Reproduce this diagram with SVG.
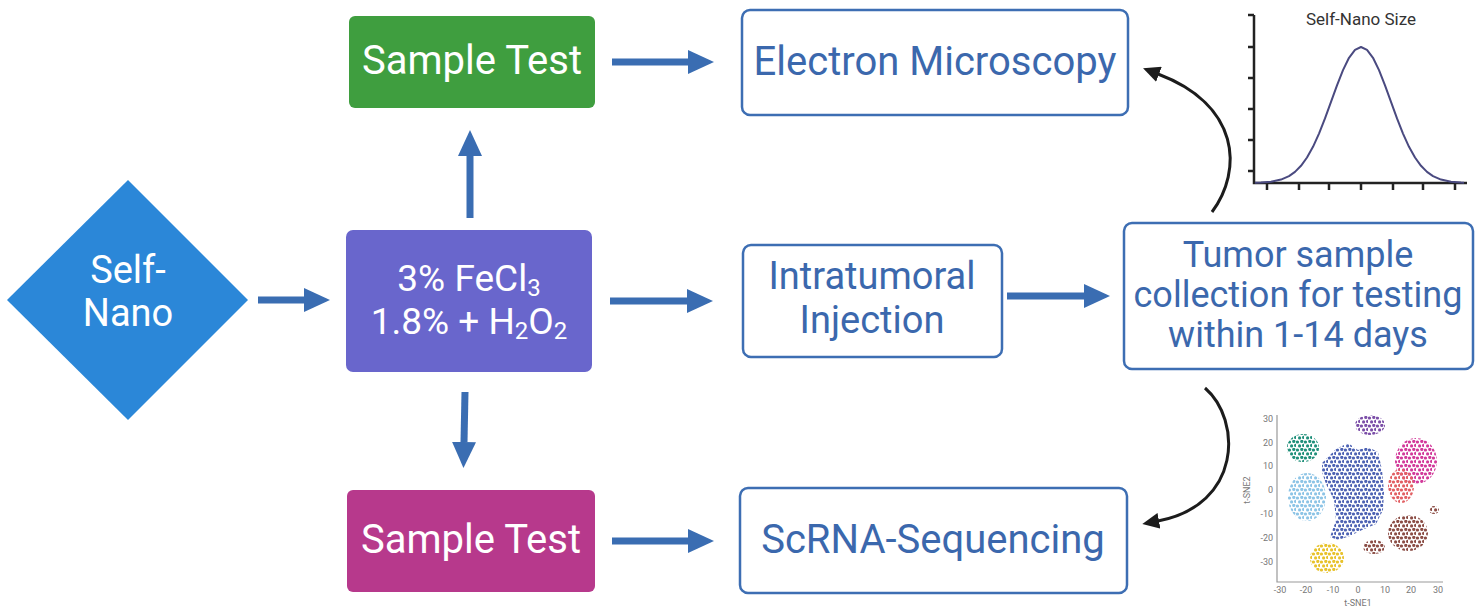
<svg xmlns="http://www.w3.org/2000/svg" width="1479" height="614" viewBox="0 0 1479 614">
<style>
text{font-family:Roboto,"Liberation Sans",Arial,sans-serif}
.wt{fill:#ffffff;text-anchor:middle}
.bt{fill:#3b68ad;text-anchor:middle}
.ob{fill:#ffffff;stroke:#3d6eb3;stroke-width:2.5}
.ba{stroke:#3a6db2;stroke-width:7;fill:none;marker-end:url(#ab)}
.ka{stroke:#1c1c1c;stroke-width:3;fill:none;marker-end:url(#ak)}
.ax{stroke:#222;stroke-width:2.5;fill:none}
.tx{stroke:#999;stroke-width:1.2;fill:none}
.tl{fill:#777;font-size:9px}
</style>
<defs>
<marker id="ab" markerWidth="26" markerHeight="26" refX="0" refY="13" orient="auto" markerUnits="userSpaceOnUse"><path d="M0,1 L26,13 L0,25 Z" fill="#3a6db2"/></marker>
<marker id="ak" markerWidth="18" markerHeight="16" refX="1" refY="8" orient="auto" markerUnits="userSpaceOnUse"><path d="M0,0 L17,8 L0,16 Z" fill="#1c1c1c"/></marker>
<pattern id="pTeal" patternUnits="userSpaceOnUse" width="8" height="8"><g fill="#1f8f7a"><circle cx="1.5" cy="2" r="1.6"/><circle cx="5.8" cy="1.4" r="1.6"/><circle cx="3.6" cy="5.9" r="1.6"/><circle cx="7.6" cy="5.4" r="1.6"/></g></pattern>
<pattern id="pLb" patternUnits="userSpaceOnUse" width="8" height="8"><g fill="#8cc4e6"><circle cx="1.5" cy="2" r="1.6"/><circle cx="5.8" cy="1.4" r="1.6"/><circle cx="3.6" cy="5.9" r="1.6"/><circle cx="7.6" cy="5.4" r="1.6"/></g></pattern>
<pattern id="pBl" patternUnits="userSpaceOnUse" width="8" height="8"><g fill="#4d62b3"><circle cx="1.5" cy="2" r="1.6"/><circle cx="5.8" cy="1.4" r="1.6"/><circle cx="3.6" cy="5.9" r="1.6"/><circle cx="7.6" cy="5.4" r="1.6"/></g></pattern>
<pattern id="pPu" patternUnits="userSpaceOnUse" width="8" height="8"><g fill="#7c4fa8"><circle cx="1.5" cy="2" r="1.6"/><circle cx="5.8" cy="1.4" r="1.6"/><circle cx="3.6" cy="5.9" r="1.6"/><circle cx="7.6" cy="5.4" r="1.6"/></g></pattern>
<pattern id="pMg" patternUnits="userSpaceOnUse" width="8" height="8"><g fill="#d2399a"><circle cx="1.5" cy="2" r="1.6"/><circle cx="5.8" cy="1.4" r="1.6"/><circle cx="3.6" cy="5.9" r="1.6"/><circle cx="7.6" cy="5.4" r="1.6"/></g></pattern>
<pattern id="pSa" patternUnits="userSpaceOnUse" width="8" height="8"><g fill="#e25f63"><circle cx="1.5" cy="2" r="1.6"/><circle cx="5.8" cy="1.4" r="1.6"/><circle cx="3.6" cy="5.9" r="1.6"/><circle cx="7.6" cy="5.4" r="1.6"/></g></pattern>
<pattern id="pBr" patternUnits="userSpaceOnUse" width="8" height="8"><g fill="#8b4d45"><circle cx="1.5" cy="2" r="1.6"/><circle cx="5.8" cy="1.4" r="1.6"/><circle cx="3.6" cy="5.9" r="1.6"/><circle cx="7.6" cy="5.4" r="1.6"/></g></pattern>
<pattern id="pYe" patternUnits="userSpaceOnUse" width="8" height="8"><g fill="#e8c22a"><circle cx="1.5" cy="2" r="1.6"/><circle cx="5.8" cy="1.4" r="1.6"/><circle cx="3.6" cy="5.9" r="1.6"/><circle cx="7.6" cy="5.4" r="1.6"/></g></pattern>
</defs>
<rect width="1479" height="614" fill="#ffffff"/>

<g id="self-nano">
<polygon points="128,180 248,300 128,420 7,300" fill="#2b87d8"/>
<text class="wt" x="128" y="283" font-size="38">Self-</text>
<text class="wt" x="128" y="326" font-size="38">Nano</text>
</g>

<g id="reagent">
<rect x="346" y="230" width="246" height="142" rx="7" fill="#6966cc"/>
<text class="wt" x="469" y="291" font-size="37">3% FeCl<tspan font-size="24" dy="5">3</tspan></text>
<text class="wt" x="469" y="334" font-size="37">1.8% + H<tspan font-size="24" dy="5">2</tspan><tspan dy="-5">O</tspan><tspan font-size="24" dy="5">2</tspan></text>
</g>

<g id="sample-test-top">
<rect x="349" y="16" width="246" height="92" rx="6" fill="#3f9e3f"/>
<text class="wt" x="472" y="74" font-size="40">Sample Test</text>
</g>

<g id="sample-test-bottom">
<rect x="347" y="490" width="248" height="102" rx="6" fill="#b7398c"/>
<text class="wt" x="471" y="553" font-size="40">Sample Test</text>
</g>

<g id="electron-microscopy">
<rect class="ob" x="742" y="10" width="386" height="105" rx="8"/>
<text class="bt" x="935" y="75" font-size="40">Electron Microscopy</text>
</g>

<g id="intratumoral">
<rect class="ob" x="743" y="245" width="259" height="112" rx="8"/>
<text class="bt" x="872" y="289" font-size="38">Intratumoral</text>
<text class="bt" x="872" y="333" font-size="38">Injection</text>
</g>

<g id="tumor-sample">
<rect class="ob" x="1124" y="223" width="349" height="146" rx="8"/>
<text class="bt" x="1298" y="267" font-size="36">Tumor sample</text>
<text class="bt" x="1298" y="307" font-size="36">collection for testing</text>
<text class="bt" x="1298" y="347" font-size="36">within 1-14 days</text>
</g>

<g id="scrna">
<rect class="ob" x="740" y="488" width="387" height="105" rx="8"/>
<text class="bt" x="933" y="553" font-size="40">ScRNA-Sequencing</text>
</g>

<g id="size-chart">
<text x="1361" y="25" font-size="17" fill="#333" text-anchor="middle">Self-Nano Size</text>
<path class="ax" d="M1254,15 L1254,183 L1467,183"/>
<path class="ax" stroke-width="1.6" d="M1248,15 H1254 M1248,47 H1254 M1248,78 H1254 M1248,109 H1254 M1248,140 H1254 M1248,171 H1254 M1267,183 V190 M1299,183 V190 M1329,183 V190 M1361,183 V190 M1393,183 V190 M1423,183 V190 M1455,183 V190"/>
<path d="M1255,182.8 L1261,182.6 L1271,181.7 L1281,179.6 L1289,176.1 L1295,171.9 L1301,165.8 L1307,157.5 L1313,146.8 L1319,133.6 L1325,118.4 L1331,101.9 L1337,85.3 L1343,70.1 L1349,57.8 L1355,49.8 L1361,47 L1367,49.8 L1373,57.8 L1379,70.1 L1385,85.3 L1391,101.9 L1397,118.4 L1403,133.6 L1409,146.8 L1415,157.5 L1421,165.8 L1427,171.9 L1433,176.1 L1441,179.6 L1451,181.7 L1461,182.6 L1464,182.8" fill="none" stroke="#4a4a80" stroke-width="2" stroke-linejoin="round"/>
</g>

<g id="tsne-chart">
<path class="tx" d="M1277,415 L1277,582 L1443,582"/>
<g class="tl" text-anchor="end">
<text x="1273" y="422">30</text><text x="1273" y="446">20</text><text x="1273" y="469">10</text><text x="1273" y="493">0</text><text x="1273" y="517">-10</text><text x="1273" y="541">-20</text><text x="1273" y="565">-30</text>
</g>
<g class="tl" text-anchor="middle">
<text x="1280" y="593">-30</text><text x="1306" y="593">-20</text><text x="1333" y="593">-10</text><text x="1358" y="593">0</text><text x="1385" y="593">10</text><text x="1411" y="593">20</text><text x="1438" y="593">30</text>
<text x="1358" y="606">t-SNE1</text>
<text transform="translate(1250,490) rotate(-90)" x="0" y="0">t-SNE2</text>
</g>
<ellipse cx="1303" cy="448" rx="16" ry="14" fill="url(#pTeal)"/>
<ellipse cx="1307" cy="497" rx="19" ry="24" fill="url(#pLb)"/>
<path d="M1322,463 L1336,449 L1348,443 L1358,450 L1368,447 L1378,452 L1382,470 L1384,492 L1383,510 L1376,524 L1362,530 L1350,536 L1338,540 L1330,537 L1336,520 L1334,500 L1326,484 L1322,472 Z" fill="url(#pBl)"/>
<ellipse cx="1370" cy="425" rx="15" ry="10" fill="url(#pPu)"/>
<ellipse cx="1416" cy="461" rx="21" ry="23" fill="url(#pMg)"/>
<ellipse cx="1401" cy="486" rx="13" ry="17" fill="url(#pSa)"/>
<ellipse cx="1408" cy="533" rx="20" ry="18" fill="url(#pBr)"/>
<ellipse cx="1374" cy="547" rx="11" ry="7" fill="url(#pBr)"/>
<ellipse cx="1434" cy="510" rx="5" ry="4" fill="url(#pBr)"/>
<ellipse cx="1327" cy="558" rx="17" ry="15" fill="url(#pYe)"/>
</g>

<g id="connectors">
<line class="ba" x1="258" y1="300" x2="304" y2="300"/>
<line class="ba" x1="612" y1="62" x2="688" y2="62"/>
<line class="ba" x1="610" y1="301" x2="687" y2="301"/>
<line class="ba" x1="1007" y1="296" x2="1084" y2="296"/>
<line class="ba" x1="612" y1="541" x2="688" y2="541"/>
<line class="ba" x1="470" y1="218" x2="470" y2="156"/>
<line class="ba" x1="465" y1="392" x2="464" y2="442"/>
<path class="ka" d="M1212,212 C1243,170 1240,105 1158,74"/>
<path class="ka" d="M1205,388 C1242,420 1242,505 1158,521"/>
</g>
</svg>
